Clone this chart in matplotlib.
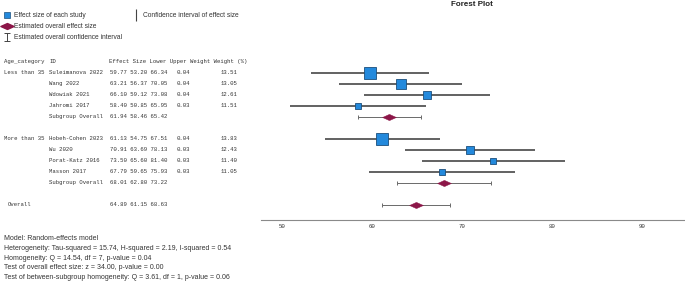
import numpy as np
import matplotlib
matplotlib.use("Agg")
import matplotlib.pyplot as plt
from matplotlib.lines import Line2D
from matplotlib.path import Path
import matplotlib.transforms as mtransforms

# =========================
# data
# =========================
groups = ["Less than 35", "More than 35"]
study_ids = [
    ["Suleimanova 2022", "Wang 2022", "Wdowiak 2021", "Jahromi 2017"],
    ["Hobeh-Cohen 2023", "Wu 2020", "Porat-Katz 2016", "Masson 2017"],
]
effects = [[59.77, 63.21, 66.10, 58.40], [61.13, 70.91, 73.50, 67.79]]
lowers = [[53.20, 56.37, 59.12, 50.85], [54.75, 63.69, 65.60, 59.65]]
uppers = [[66.34, 70.05, 73.08, 65.95], [67.51, 78.13, 81.40, 75.93]]
weights = [[0.04, 0.04, 0.04, 0.03], [0.04, 0.03, 0.03, 0.03]]
weight_pct = [[13.51, 13.05, 12.61, 11.51], [13.83, 12.43, 11.40, 11.05]]

sub_effect = [61.94, 68.01]
sub_lower = [58.46, 62.80]
sub_upper = [65.42, 73.22]

overall_effect = 64.89
overall_lower = 61.15
overall_upper = 68.63

x_ticks = [50, 60, 70, 80, 90]

footnotes = [
    "Model: Random-effects model",
    "Heterogeneity: Tau-squared = 15.74, H-squared = 2.19, I-squared = 0.54",
    "Homogeneity: Q = 14.54, df = 7, p-value = 0.04",
    "Test of overall effect size: z = 34.00, p-value = 0.00",
    "Test of between-subgroup homogeneity: Q = 3.61, df = 1, p-value = 0.06",
]

# =========================
# style
# =========================
W, H = 685, 281
SQ_FACE = "#2389dc"
SQ_EDGE = "#1b4f7c"
DIA = "#8c1648"
CI_COL = "#555555"
TXT = "#333333"
MONO = "Liberation Mono"
SANS = "Liberation Sans"
FS = 4.1

diamond = Path([(-1, 0), (0, 0.45), (1, 0), (0, -0.45), (-1, 0)],
               [Path.MOVETO, Path.LINETO, Path.LINETO, Path.LINETO, Path.CLOSEPOLY])
ibeam = Path([(-0.35, 0.5), (0.35, 0.5), (0, 0.5), (0, -0.5), (-0.35, -0.5), (0.35, -0.5)],
             [Path.MOVETO, Path.LINETO, Path.MOVETO, Path.LINETO, Path.MOVETO, Path.LINETO])


def px(x):
    return x / W


def py(y):
    return 1 - y / H


fig = plt.figure(figsize=(W / 100, H / 100), dpi=100)
fig.patch.set_facecolor("white")

ax = fig.add_axes([px(261), py(220), 1 - px(261), (220 - 54) / H])
ax.set_xlim(47.667, 94.78)
ax.set_ylim(14.364, -0.727)
for s in ("top", "right", "left"):
    ax.spines[s].set_visible(False)
ax.spines["bottom"].set_color("#8a8a8a")
ax.spines["bottom"].set_linewidth(0.8)
ax.set_yticks([])
ax.set_xticks(x_ticks)
ax.set_xticklabels([str(t) for t in x_ticks], fontsize=FS, family=MONO, color=TXT)
ax.tick_params(axis="x", length=0, pad=3)

tr = mtransforms.blended_transform_factory(fig.transFigure, ax.transData)


def row_text(x, row, s):
    ax.text(px(x), row, s, transform=tr, fontsize=FS, family=MONO,
            color=TXT, va="center", ha="left", clip_on=False)


# header
row_text(4, 0, "Age_category")
row_text(49, 0, "ID")
row_text(109, 0, "Effect Size Lower Upper Weight Weight (%)")

row = 1
for g, grp in enumerate(groups):
    for i, sid in enumerate(study_ids[g]):
        if i == 0:
            row_text(4, row, grp)
        row_text(49, row, sid)
        row_text(110, row, f"{effects[g][i]:.2f} {lowers[g][i]:.2f} {uppers[g][i]:.2f}")
        row_text(177, row, f"{weights[g][i]:.2f}")
        row_text(221, row, f"{weight_pct[g][i]:.2f}")
        ax.plot([lowers[g][i], uppers[g][i]], [row, row], color=CI_COL, lw=1.3,
                solid_capstyle="butt", zorder=2)
        ms = (2.5 * weight_pct[g][i] - 22.6) * 0.72
        ax.plot(effects[g][i], row, marker="s", ms=ms, mfc=SQ_FACE, mec=SQ_EDGE,
                mew=0.6, zorder=3)
        row += 1
    row_text(49, row, "Subgroup Overall")
    row_text(110, row, f"{sub_effect[g]:.2f} {sub_lower[g]:.2f} {sub_upper[g]:.2f}")
    ax.errorbar(sub_effect[g], row,
                xerr=[[sub_effect[g] - sub_lower[g]], [sub_upper[g] - sub_effect[g]]],
                fmt="none", ecolor="#6a6a6a", elinewidth=0.7, capsize=1.6,
                capthick=0.7, zorder=2)
    ax.plot(sub_effect[g], row, marker=diamond, ms=10, mfc=DIA, mec=DIA,
            mew=0.3, zorder=3)
    row += 2

row_text(8, row, "Overall")
row_text(110, row, f"{overall_effect:.2f} {overall_lower:.2f} {overall_upper:.2f}")
ax.errorbar(overall_effect, row,
            xerr=[[overall_effect - overall_lower], [overall_upper - overall_effect]],
            fmt="none", ecolor="#6a6a6a", elinewidth=0.7, capsize=1.6,
            capthick=0.7, zorder=2)
ax.plot(overall_effect, row, marker=diamond, ms=10, mfc=DIA, mec=DIA,
        mew=0.3, zorder=3)

# =========================
# legend
# =========================
h1 = Line2D([], [], ls="none", marker="s", ms=5, mfc=SQ_FACE, mec=SQ_EDGE, mew=0.5)
h2 = Line2D([], [], ls="none", marker=diamond, ms=9.5, mfc=DIA, mec=DIA)
h3 = Line2D([], [], ls="none", marker=ibeam, ms=6, mfc="none", mec="#444444", mew=0.7)
h4 = Line2D([], [], ls="none", marker="|", ms=8, mec="#444444", mew=0.8)

leg_font = {"family": SANS, "size": 4.8}
leg1 = fig.legend([h1, h2, h3],
                  ["Effect size of each study", "Estimated overall effect size",
                   "Estimated overall confidence interval"],
                  loc="upper left", bbox_to_anchor=(px(3), py(12)), frameon=False,
                  prop=leg_font, handlelength=1.2,
                  handletextpad=0.4, labelspacing=0.62, borderpad=0, borderaxespad=0)
for t in leg1.get_texts():
    t.set_color(TXT)
leg2 = fig.legend([h4], ["Confidence interval of effect size"],
                  loc="upper left", bbox_to_anchor=(px(132), py(12)), frameon=False,
                  prop=leg_font, handlelength=1.2,
                  handletextpad=0.4, borderpad=0, borderaxespad=0)
for t in leg2.get_texts():
    t.set_color(TXT)

fig.text(px(472), py(5), "Forest Plot", fontsize=5.8, fontweight="bold",
         family=SANS, color="#222222", ha="center", va="center")

for k, line in enumerate(footnotes):
    fig.text(px(4), py(239 + 9.6 * k), line, fontsize=5.0, family=SANS,
             color=TXT, ha="left", va="center")

fig.savefig("out.png", dpi=100, facecolor="white")
